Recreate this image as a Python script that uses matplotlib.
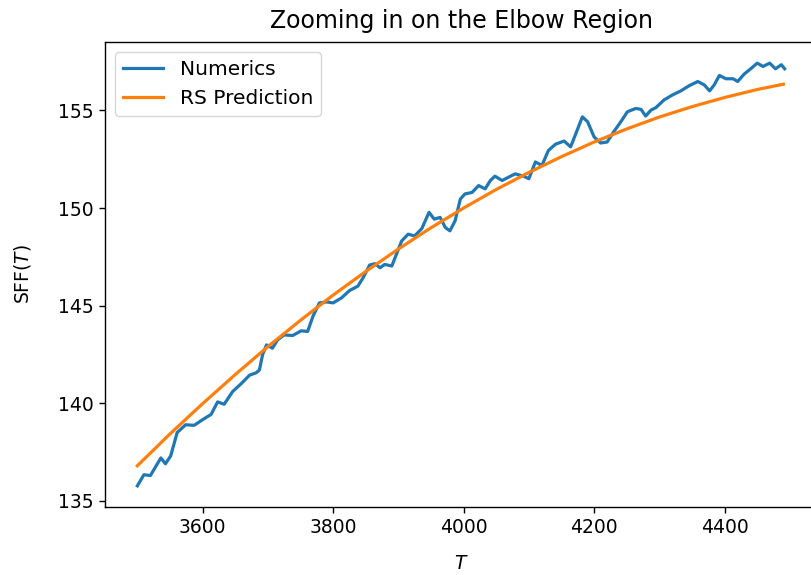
import matplotlib
matplotlib.use("Agg")
import matplotlib.pyplot as plt

# Numerics
T_num = [3500, 3510, 3520, 3536, 3543, 3551, 3561, 3574, 3587, 3600,
         3613, 3623, 3633, 3646, 3659, 3672, 3682, 3687, 3692, 3698,
         3707, 3715, 3725, 3738, 3751, 3761, 3769, 3779, 3790, 3800,
         3813, 3825, 3838, 3846, 3856, 3864, 3872, 3879, 3890, 3895,
         3905, 3915, 3925, 3936, 3947, 3955, 3964, 3972, 3979, 3987,
         3995, 4002, 4013, 4023, 4033, 4041, 4048, 4059, 4069, 4079,
         4092, 4100, 4110, 4120, 4130, 4141, 4154, 4164, 4172, 4182,
         4190, 4200, 4210, 4220, 4230, 4241, 4251, 4264, 4272, 4279,
         4287, 4295, 4307, 4320, 4333, 4346, 4359, 4369, 4377, 4384,
         4392, 4402, 4413, 4420, 4430, 4441, 4450, 4459, 4469, 4478,
         4487, 4492]
sff_num = [135.77, 136.34, 136.30, 137.20, 136.90, 137.30, 138.50, 138.90, 138.87, 139.16,
           139.43, 140.07, 139.95, 140.60, 141.00, 141.44, 141.56, 141.70, 142.50, 142.99,
           142.82, 143.25, 143.50, 143.47, 143.71, 143.68, 144.45, 145.14, 145.19, 145.14,
           145.40, 145.77, 146.00, 146.43, 147.08, 147.15, 146.94, 147.11, 147.03, 147.46,
           148.31, 148.66, 148.57, 148.95, 149.78, 149.43, 149.52, 149.00, 148.83, 149.35,
           150.46, 150.72, 150.80, 151.15, 150.98, 151.41, 151.63, 151.41, 151.58, 151.75,
           151.63, 151.50, 152.36, 152.18, 152.95, 153.27, 153.43, 153.13, 153.81, 154.67,
           154.42, 153.64, 153.33, 153.38, 153.90, 154.42, 154.93, 155.10, 155.05, 154.71,
           155.01, 155.15, 155.53, 155.79, 156.00, 156.27, 156.48, 156.30, 156.00, 156.30,
           156.79, 156.62, 156.62, 156.48, 156.86, 157.16, 157.42, 157.25, 157.42, 157.13,
           157.34, 157.13]

# RS Prediction
T_rs = [3500, 3550, 3600, 3650, 3700, 3750, 3800, 3850, 3900, 3950,
        4000, 4050, 4100, 4150, 4200, 4250, 4300, 4350, 4400, 4450, 4490]
sff_rs = [136.80, 138.43, 139.98, 141.47, 142.90, 144.25, 145.54, 146.75, 147.90, 148.99,
          150.00, 150.95, 151.82, 152.63, 153.38, 154.05, 154.66, 155.19, 155.66, 156.07, 156.34]

title = "Zooming in on the Elbow Region"
labels = ["Numerics", "RS Prediction"]

fig = plt.figure(figsize=(8.12, 5.75), dpi=100)
ax = fig.add_axes([105/812, (575-507)/575, 712/812, (507-42)/575])

ax.plot(T_num, sff_num, color="#1f77b4", lw=2.3, label=labels[0])
ax.plot(T_rs, sff_rs, color="#ff7f0e", lw=2.3, label=labels[1])

ax.set_xticks([3600, 3800, 4000, 4200, 4400])
ax.set_yticks([135, 140, 145, 150, 155])
ax.tick_params(labelsize=13.5, length=4.5, width=1.0)
for s in ax.spines.values():
    s.set_linewidth(1.0)

ax.set_title(title, fontsize=17, pad=10)
ax.set_xlabel("$T$", fontsize=13.5, labelpad=12)
ax.set_ylabel("SFF($T$)", fontsize=13.5, labelpad=18)
ax.legend(loc="upper left", fontsize=14.5)

fig.savefig("out.png", dpi=100)
